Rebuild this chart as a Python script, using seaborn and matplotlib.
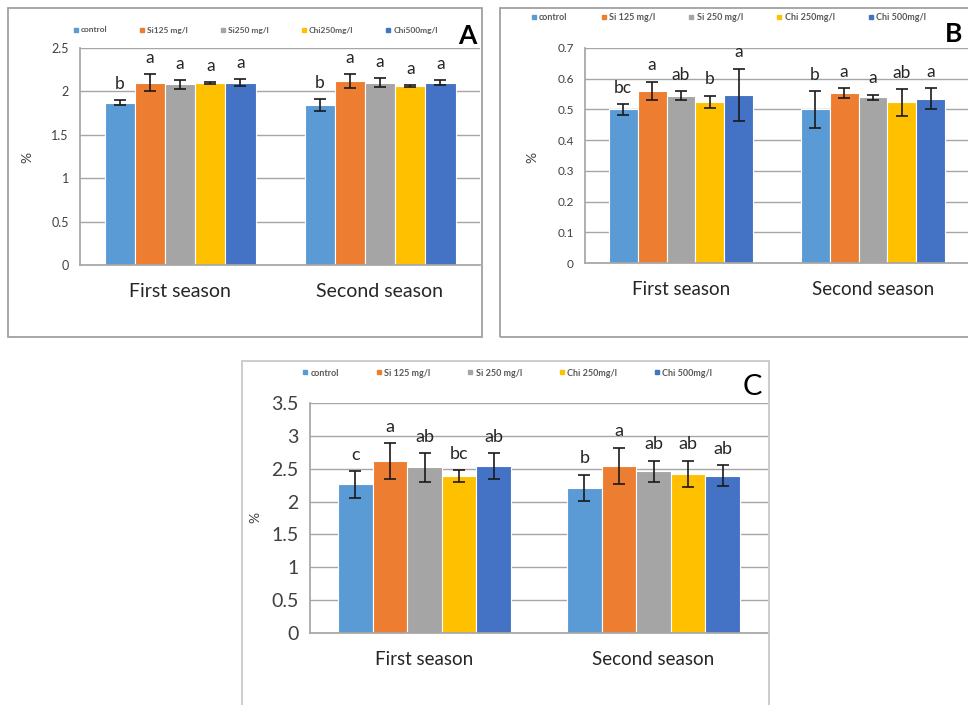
import numpy as np
import pandas as pd
import matplotlib
matplotlib.use("Agg")
import matplotlib.pyplot as plt
from matplotlib.lines import Line2D
from matplotlib.patches import Rectangle
from matplotlib.container import BarContainer
import seaborn as sns

# ************************ data ************************
seasons = ["First season", "Second season"]
treatments = ["control", "Si125", "Si250", "Chi250", "Chi500"]
colors = ["#5b9bd5", "#ed7d31", "#a5a5a5", "#ffc000", "#4472c4"]

# panel A
a_legend = ["control", "Si125 mg/l", "Si250 mg/l", "Chi250mg/l", "Chi500mg/l"]
a_mean = [[1.87, 2.10, 2.08, 2.10, 2.10], [1.84, 2.12, 2.10, 2.065, 2.10]]
a_err = [[0.03, 0.10, 0.05, 0.01, 0.04], [0.07, 0.08, 0.05, 0.01, 0.03]]
a_letters = [["b", "a", "a", "a", "a"], ["b", "a", "a", "a", "a"]]
a_ticks = [0, 0.5, 1, 1.5, 2, 2.5]

# panel B
b_legend = ["control", "Si 125 mg/l", "Si 250 mg/l", "Chi 250mg/l", "Chi 500mg/l"]
b_mean = [[0.50, 0.56, 0.545, 0.525, 0.548], [0.50, 0.553, 0.54, 0.523, 0.535]]
b_err = [[0.017, 0.03, 0.015, 0.02, 0.085], [0.06, 0.017, 0.008, 0.043, 0.035]]
b_letters = [["bc", "a", "ab", "b", "a"], ["b", "a", "a", "ab", "a"]]
b_ticks = [0, 0.1, 0.2, 0.3, 0.4, 0.5, 0.6, 0.7]

# panel C
c_legend = ["control", "Si 125 mg/l", "Si 250 mg/l", "Chi 250mg/l", "Chi 500mg/l"]
c_mean = [[2.26, 2.62, 2.52, 2.39, 2.54], [2.21, 2.54, 2.46, 2.42, 2.39]]
c_err = [[0.20, 0.27, 0.22, 0.09, 0.20], [0.20, 0.28, 0.16, 0.20, 0.16]]
c_letters = [["c", "a", "ab", "bc", "ab"], ["b", "a", "ab", "ab", "ab"]]
c_ticks = [0, 0.5, 1, 1.5, 2, 2.5, 3, 3.5]

W, H = 968, 705
FONT = ["Lato", "DejaVu Sans"]
TXT = "#404040"
GRID = "#a6a6a6"


def px_rect(l, t, r, b):
    # pixel box -> figure fraction [left, bottom, width, height]
    return [l / W, 1 - b / H, (r - l) / W, (b - t) / H]


def draw_panel(fig, box, frame, mean, err, letters, legend, ticks,
               tick_fs, cat_fs, letter_fs, leg_xy, leg_fs, colsp, tag, tag_xy,
               tag_fs, tag_w, ylab_xy, frame_col="#a0a0a0"):
    # frame round the panel
    l, t, r, b = frame
    fig.patches.append(Rectangle((l / W, 1 - b / H), (r - l) / W, (b - t) / H,
                                 transform=fig.transFigure, fill=False,
                                 edgecolor=frame_col, linewidth=1.3))
    ax = fig.add_axes(px_rect(*box))
    rows = []
    for i, s in enumerate(seasons):
        for j, tr in enumerate(treatments):
            rows.append({"season": s, "treatment": tr, "value": mean[i][j]})
    df = pd.DataFrame(rows)
    sns.barplot(data=df, x="season", y="value", hue="treatment",
                order=seasons, hue_order=treatments, palette=colors,
                saturation=1, width=0.755, errorbar=None, legend=False,
                edgecolor="white", linewidth=0.8, ax=ax, zorder=2)
    # error bars and letters
    bar_conts = [c for c in ax.containers if isinstance(c, BarContainer)]
    for j, cont in enumerate(bar_conts):
        for bar in cont:
            xc = bar.get_x() + bar.get_width() / 2
            i = int(round(xc))
            v = bar.get_height()
            e = err[i][j]
            ax.errorbar(xc, v, yerr=e, fmt="none", ecolor="#1a1a1a",
                        elinewidth=1.2, capsize=4, capthick=1.2, zorder=3)
            ax.annotate(letters[i][j], (xc, v + e), xytext=(0, 6),
                        textcoords="offset points", ha="center", va="bottom",
                        fontsize=letter_fs, color="#262626", family=FONT)
    ax.set_xlim(-0.5, 1.5)
    ax.set_ylim(ticks[0], ticks[-1])
    ax.set_yticks(ticks)
    ax.set_yticklabels([f"{v:g}" for v in ticks], fontsize=tick_fs,
                       color=TXT, family=FONT)
    ax.set_xticks([0, 1])
    ax.set_xticklabels(seasons, fontsize=cat_fs, color="#262626", family=FONT)
    ax.set_xticks([-0.5, 0.5, 1.5], minor=True)
    ax.tick_params(axis="x", which="major", length=0, pad=cat_fs * 0.95)
    ax.tick_params(axis="x", which="minor", length=4, color=GRID)
    ax.tick_params(axis="y", length=4, color=GRID, pad=4)
    ax.yaxis.grid(True, color=GRID, linewidth=1, zorder=0)
    ax.set_axisbelow(True)
    ax.set_xlabel("")
    ax.set_ylabel("")
    for sp in ["top", "right"]:
        ax.spines[sp].set_visible(False)
    for sp in ["left", "bottom"]:
        ax.spines[sp].set_color(GRID)
    ax.patch.set_alpha(0)
    fig.text(ylab_xy[0] / W, 1 - ylab_xy[1] / H, "%", rotation=90,
             ha="center", va="center", fontsize=10, color=TXT,
             family=FONT)
    handles = [Line2D([], [], marker="s", linestyle="", color=c, markersize=2.6)
               for c in colors]
    fig.legend(handles, legend, loc="center",
               bbox_to_anchor=(leg_xy[0] / W, 1 - leg_xy[1] / H), ncol=5,
               frameon=False, handletextpad=0.2, handlelength=0.8,
               columnspacing=colsp,
               prop={"family": FONT, "size": leg_fs, "weight": "bold"},
               labelcolor="#595959")
    fig.text(tag_xy[0] / W, 1 - tag_xy[1] / H, tag, ha="center",
             va="center", fontsize=tag_fs, fontweight=tag_w, color="black",
             family=FONT)
    return ax


sns.set_theme(style="white")
plt.rcParams["font.family"] = FONT

fig = plt.figure(figsize=(W / 100, H / 100), dpi=100)
fig.patch.set_facecolor("white")

draw_panel(fig, (80, 48, 480, 265), (8, 8, 482, 337), a_mean, a_err,
           a_letters, a_legend, a_ticks, 9, 14, 12.5, (255, 30), 6, 3.8,
           "A", (467, 36), 19, "bold", (27, 157))
draw_panel(fig, (585, 48, 969, 263), (500, 8, 985, 337), b_mean, b_err,
           b_letters, b_legend, b_ticks, 8.5, 13.5, 12.5, (728, 18), 6.5, 3.6,
           "B", (954, 34), 19, "bold", (532, 157))
draw_panel(fig, (310, 403, 768, 633), (242, 361, 769, 720), c_mean, c_err,
           c_letters, c_legend, c_ticks, 14, 13.5, 13, (507, 373), 6.5, 4.0,
           "C", (752, 387), 21, "normal", (255, 517), frame_col="#c8c8c8")

fig.savefig("out.png", dpi=100)
